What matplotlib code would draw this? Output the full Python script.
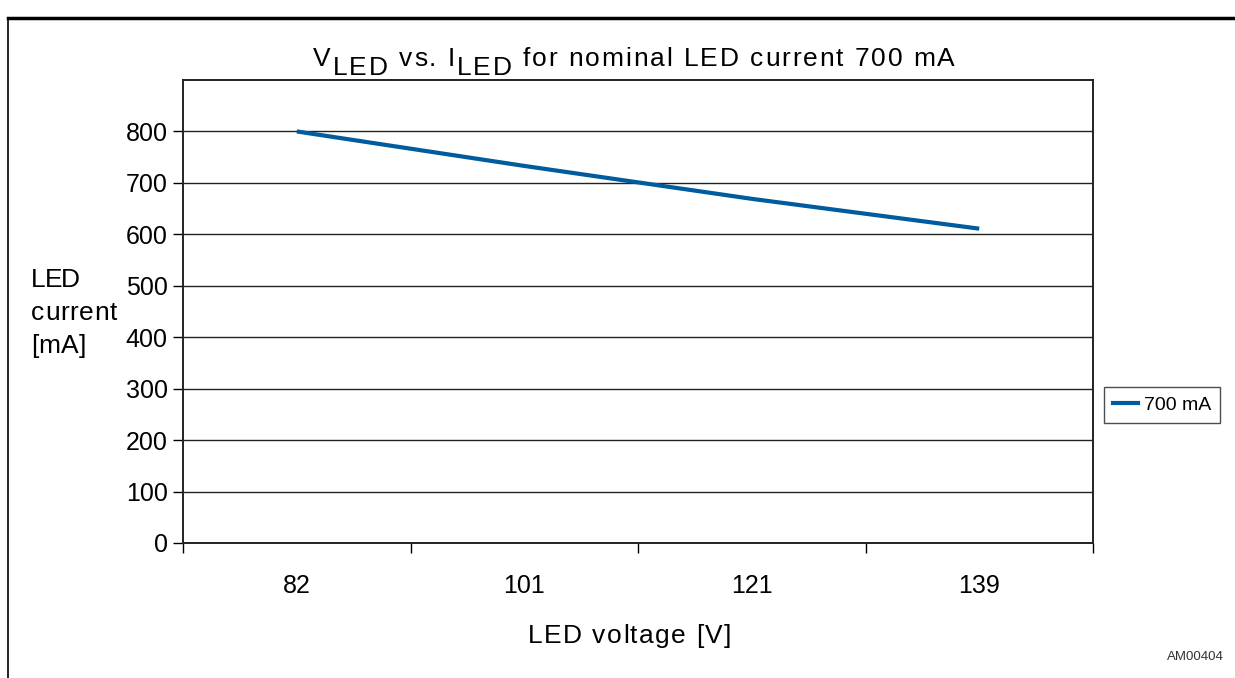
import matplotlib
matplotlib.use('Agg')
import matplotlib.pyplot as plt
from matplotlib.lines import Line2D
from matplotlib.font_manager import FontProperties

plt.rcParams['font.family'] = ['Liberation Sans', 'DejaVu Sans']

# data
voltages = ['82', '101', '121', '139']
current_700 = [800, 733, 669, 611]
y_ticks = [0, 100, 200, 300, 400, 500, 600, 700, 800]

W, H = 1235, 678
fig = plt.figure(figsize=(W / 100, H / 100), dpi=100)
renderer = fig.canvas.get_renderer()


def text_width(s, size):
    fp = FontProperties(family='Liberation Sans', size=size)
    w, _, _ = renderer.get_text_width_height_descent(s, fp, ismath=False)
    return w


def spaced_text(parts, x0, x1, base_y, size):
    # draw text char by char, spread evenly so it spans x0..x1 (pixels)
    chars = []
    for s, drop in parts:
        chars += [(c, drop) for c in s]
    full = ''.join(c for c, _ in chars)
    natural = text_width(full, size)
    track = (x1 - x0 - natural) / (len(chars) - 1)
    for i, (c, drop) in enumerate(chars):
        if c == ' ':
            continue
        px = x0 + text_width(full[:i], size) + i * track
        fig.text(px / W, 1 - (base_y + drop) / H, c, ha='left', va='baseline', fontsize=size)


ax = fig.add_axes([183/W, 1 - 543/H, 910/W, 463/H])

xpos = list(range(len(voltages)))
ax.plot(xpos, current_700, color='#005b9f', lw=3.0, solid_capstyle='butt', label='700 mA')

ax.set_xlim(-0.5, len(voltages) - 0.5)
ax.set_ylim(0, 900)
ax.set_yticks(y_ticks)
ax.set_yticklabels([str(v) for v in y_ticks], fontsize=18)
ax.set_xticks(xpos)
ax.set_xticklabels(voltages, fontsize=18)
ax.tick_params(axis='x', length=0, pad=22)
ax.tick_params(axis='y', length=7, width=1, pad=4)
# category boundary tick marks on x axis
ax.set_xticks([i - 0.5 for i in range(len(voltages) + 1)], minor=True)
ax.tick_params(axis='x', which='minor', length=7, width=1, direction='out')

ax.grid(axis='y', color='#222222', lw=1)
ax.set_axisbelow(True)
for s in ax.spines.values():
    s.set_color('#222222')
    s.set_linewidth(1.4)

# title: subscripts are full size, dropped below the baseline
spaced_text([('V', 0), ('LED', 9), (' vs. ', 0), ('I', 0), ('LED', 9),
             (' for nominal LED current 700 mA', 0)], 313, 955, 66, 19)

spaced_text([('LED voltage [V]', 0)], 528, 731, 643, 19)
spaced_text([('LED', 0)], 31, 80, 287, 19)
spaced_text([('current', 0)], 31, 117, 320, 19)
spaced_text([('[mA]', 0)], 31, 86, 353, 19)

fig.text(1224/W, 1 - 657/H, 'AM00404', ha='right', va='center', fontsize=9.5, color='#333333')

leg = fig.legend(handles=[Line2D([], [], color='#005b9f', lw=3)], labels=['700 mA'],
                 loc='center', bbox_to_anchor=(1162/W, 1 - 405/H), fontsize=14,
                 frameon=True, fancybox=False, handlelength=1.3, handletextpad=0.3,
                 borderpad=0.45, borderaxespad=0)
leg.get_frame().set_edgecolor('#222222')
leg.get_frame().set_linewidth(1)

# outer figure frame
fig.add_artist(Line2D([8/W, 1], [1 - 18/H, 1 - 18/H], color='black', lw=2.5,
                      transform=fig.transFigure))
fig.add_artist(Line2D([8/W, 8/W], [0, 1 - 18/H], color='black', lw=1.2,
                      transform=fig.transFigure))

fig.savefig('out.png', dpi=100)
